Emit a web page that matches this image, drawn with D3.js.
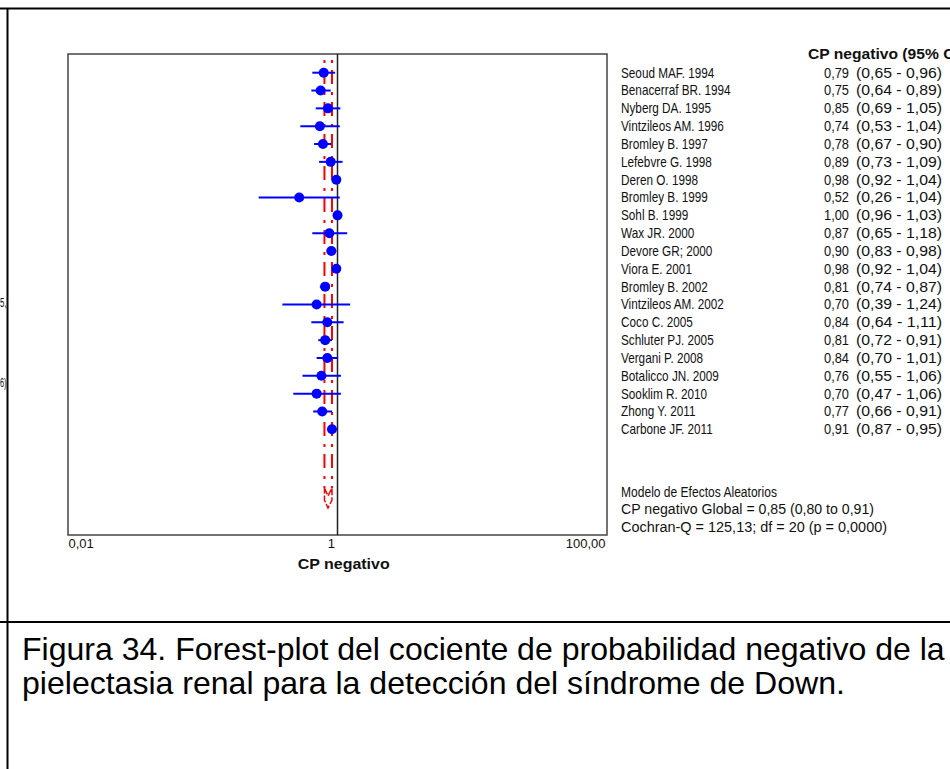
<!DOCTYPE html>
<html>
<head>
<meta charset="utf-8">
<script src="https://cdn.jsdelivr.net/npm/d3@7"></script>
<style>
  html, body { margin: 0; padding: 0; background: #fff; }
  svg { display: block; }
</style>
</head>
<body>
<svg id="chart" width="950" height="769"></svg>
<script>
// Studies included in the meta-analysis (negative likelihood ratio, 95% CI)
const studies = [
  "Seoud MAF. 1994", "Benacerraf BR. 1994", "Nyberg DA. 1995", "Vintzileos AM. 1996",
  "Bromley B. 1997", "Lefebvre G. 1998", "Deren O. 1998", "Bromley B. 1999",
  "Sohl B. 1999", "Wax JR.  2000", "Devore GR; 2000", "Viora E. 2001",
  "Bromley B. 2002", "Vintzileos AM. 2002", "Coco C. 2005", "Schluter PJ. 2005",
  "Vergani P. 2008", "Botalicco JN. 2009", "Sooklim R. 2010", "Zhong Y. 2011",
  "Carbone JF. 2011"
];
const cpValues = [0.79, 0.75, 0.85, 0.74, 0.78, 0.89, 0.98, 0.52, 1.00, 0.87, 0.90,
                  0.98, 0.81, 0.70, 0.84, 0.81, 0.84, 0.76, 0.70, 0.77, 0.91];
const ciLower  = [0.65, 0.64, 0.69, 0.53, 0.67, 0.73, 0.92, 0.26, 0.96, 0.65, 0.83,
                  0.92, 0.74, 0.39, 0.64, 0.72, 0.70, 0.55, 0.47, 0.66, 0.87];
const ciUpper  = [0.96, 0.89, 1.05, 1.04, 0.90, 1.09, 1.04, 1.04, 1.03, 1.18, 0.98,
                  1.04, 0.87, 1.24, 1.11, 0.91, 1.01, 1.06, 1.06, 0.91, 0.95];

// Pooled random-effects estimate
const pooledEstimate = 0.85;
const pooledLower = 0.80;
const pooledUpper = 0.91;

const xTickValues = [0.01, 1, 100];
const xTickLabels = ["0,01", "1", "100,00"];
const axisTitle = "CP negativo";
const tableHeader = "CP negativo (95% CI)";
const summaryLines = [
  "Modelo de Efectos Aleatorios",
  "CP negativo Global = 0,85 (0,80 to 0,91)",
  "Cochran-Q = 125,13; df =  20 (p = 0,0000)"
];
const captionLines = [
  "Figura 34. Forest-plot del cociente de probabilidad negativo de la",
  "pielectasia renal para la detección del síndrome de Down."
];
const strayFragments = ["5,", "6)"];

// ---------------------------------------------------------------------------
const svg = d3.select("#chart");
const esLocale = d3.formatLocale({ decimal: ",", thousands: ".", grouping: [3], currency: ["", " €"] });
const fmt = esLocale.format(".2f");

const listFont = "'Liberation Sans', Arial, sans-serif";
const plainFont = "'Liberation Sans', Arial, sans-serif";
const ink = "#111";

// Page frame (table cell borders)
const frame = svg.append("g").attr("stroke", "#000").attr("stroke-width", 2);
frame.append("line").attr("x1", 0).attr("x2", 950).attr("y1", 8.5).attr("y2", 8.5);
frame.append("line").attr("x1", 7.5).attr("x2", 7.5).attr("y1", 8).attr("y2", 769);
frame.append("line").attr("x1", 0).attr("x2", 950).attr("y1", 622).attr("y2", 622);

// Fragments of neighbouring text spilling past the left border
svg.append("g").selectAll("text").data(strayFragments).join("text")
  .attr("x", 0).attr("y", (d, i) => [303, 383][i]).attr("dy", "0.35em")
  .attr("font-family", plainFont).attr("font-size", 12)
  .attr("textLength", 6.5).attr("lengthAdjust", "spacingAndGlyphs")
  .attr("fill", ink).text(d => d);

// Plot area
const plot = { left: 68, right: 607, top: 54, bottom: 535 };
const x = d3.scaleLog().domain([0.01, 100]).range([plot.left, plot.right]);
const y = d3.scalePoint().domain(d3.range(studies.length)).range([72.7, 429.3]);

svg.append("rect")
  .attr("x", plot.left).attr("y", plot.top)
  .attr("width", plot.right - plot.left).attr("height", plot.bottom - plot.top)
  .attr("fill", "none").attr("stroke", "#444").attr("stroke-width", 1.5);

// Line of no effect
svg.append("line")
  .attr("x1", x(1)).attr("x2", x(1)).attr("y1", plot.top).attr("y2", plot.bottom)
  .attr("stroke", "#222").attr("stroke-width", 1.5);

// Pooled confidence limits (dash-dot) and summary diamond
const diamondTop = 488, diamondBottom = 508;
svg.append("g").selectAll("line").data([pooledLower, pooledUpper]).join("line")
  .attr("x1", d => x(d)).attr("x2", d => x(d))
  .attr("y1", 60).attr("y2", diamondTop)
  .attr("stroke", "#ff0000").attr("stroke-width", 2)
  .attr("stroke-dasharray", "3,7,14,8");

const dl = x(pooledLower), dc = x(pooledEstimate), du = x(pooledUpper);
svg.append("path")
  .attr("d", d3.line()([
    [dl, diamondTop], [dc, diamondTop + 8], [du, diamondTop],
    [du, diamondTop + 12], [dc, diamondBottom], [dl, diamondTop + 12], [dl, diamondTop]
  ]))
  .attr("fill", "none").attr("stroke", "#ff0000").attr("stroke-width", 1.5)
  .attr("stroke-dasharray", "7,2");

// Study confidence intervals and point estimates
const idx = d3.range(studies.length);
svg.append("g").selectAll("line").data(idx).join("line")
  .attr("x1", i => x(ciLower[i])).attr("x2", i => x(ciUpper[i]))
  .attr("y1", i => y(i)).attr("y2", i => y(i))
  .attr("stroke", "#0000ff").attr("stroke-width", 2);
svg.append("g").selectAll("circle").data(idx).join("circle")
  .attr("cx", i => x(cpValues[i])).attr("cy", i => y(i)).attr("r", 5)
  .attr("fill", "#0000ff");

// X axis labels
const xAxis = d3.axisBottom(x).tickValues(xTickValues).tickSize(0)
  .tickFormat((d, i) => xTickLabels[i]);
const axisG = svg.append("g").attr("transform", `translate(0,${plot.bottom})`).call(xAxis);
axisG.select(".domain").remove();
axisG.selectAll("text")
  .attr("font-family", plainFont).attr("font-size", 13).attr("fill", ink)
  .attr("y", 4)
  .attr("text-anchor", (d, i) => ["start", "end", "end"][i])
  .attr("dx", (d, i) => [0, -3, -2][i]);

svg.append("text")
  .attr("x", 297.7).attr("y", 564).attr("dy", "0.35em")
  .attr("font-family", plainFont).attr("font-weight", "bold").attr("font-size", 14)
  .attr("textLength", 92).attr("lengthAdjust", "spacingAndGlyphs")
  .attr("fill", ink).text(axisTitle);

// Study table on the right
const listLeft = 621;
const listFontSize = 14;
const listText = sel => sel
  .attr("dy", "0.35em")
  .attr("font-family", listFont).attr("font-size", listFontSize).attr("fill", ink);

// Study names, narrowed as a block
const kNames = 0.84;
svg.append("g").attr("transform", `translate(${listLeft},0) scale(${kNames},1)`)
  .selectAll("text").data(idx).join("text")
  .attr("x", 0).attr("y", i => y(i)).call(listText)
  .text(i => studies[i]);

// Point estimates and confidence intervals
svg.append("g").selectAll("text").data(idx).join("text")
  .attr("x", 824).attr("y", i => y(i)).call(listText)
  .attr("textLength", 25).attr("lengthAdjust", "spacingAndGlyphs")
  .text(i => fmt(cpValues[i]));

svg.append("g").selectAll("text").data(idx).join("text")
  .attr("x", 856).attr("y", i => y(i)).call(listText)
  .attr("textLength", 86).attr("lengthAdjust", "spacingAndGlyphs")
  .text(i => `(${fmt(ciLower[i])} - ${fmt(ciUpper[i])})`);

svg.append("text")
  .attr("x", 808).attr("y", 54.5).call(listText)
  .attr("font-weight", "bold")
  .attr("textLength", 156).attr("lengthAdjust", "spacingAndGlyphs")
  .text(tableHeader);

// Random-effects summary block
const summaryY = [491.7, 509.5, 527.3];
const summaryW = [156, 253, 266];
svg.append("g").selectAll("text").data(summaryLines).join("text")
  .attr("x", listLeft).attr("y", (d, i) => summaryY[i]).call(listText)
  .attr("textLength", (d, i) => summaryW[i]).attr("lengthAdjust", "spacingAndGlyphs")
  .text(d => d);

// Figure caption
const capLeft = 22;
const capG = svg.append("g");
const capTexts = capG.selectAll("text").data(captionLines).join("text")
  .attr("x", 0).attr("y", (d, i) => [660, 694][i])
  .attr("font-family", listFont).attr("font-size", 32).attr("fill", "#000")
  .text(d => d);
const capK = 923 / capTexts.nodes()[0].getComputedTextLength();
capG.attr("transform", `translate(${capLeft},0) scale(${capK},1)`);
</script>
</body>
</html>
